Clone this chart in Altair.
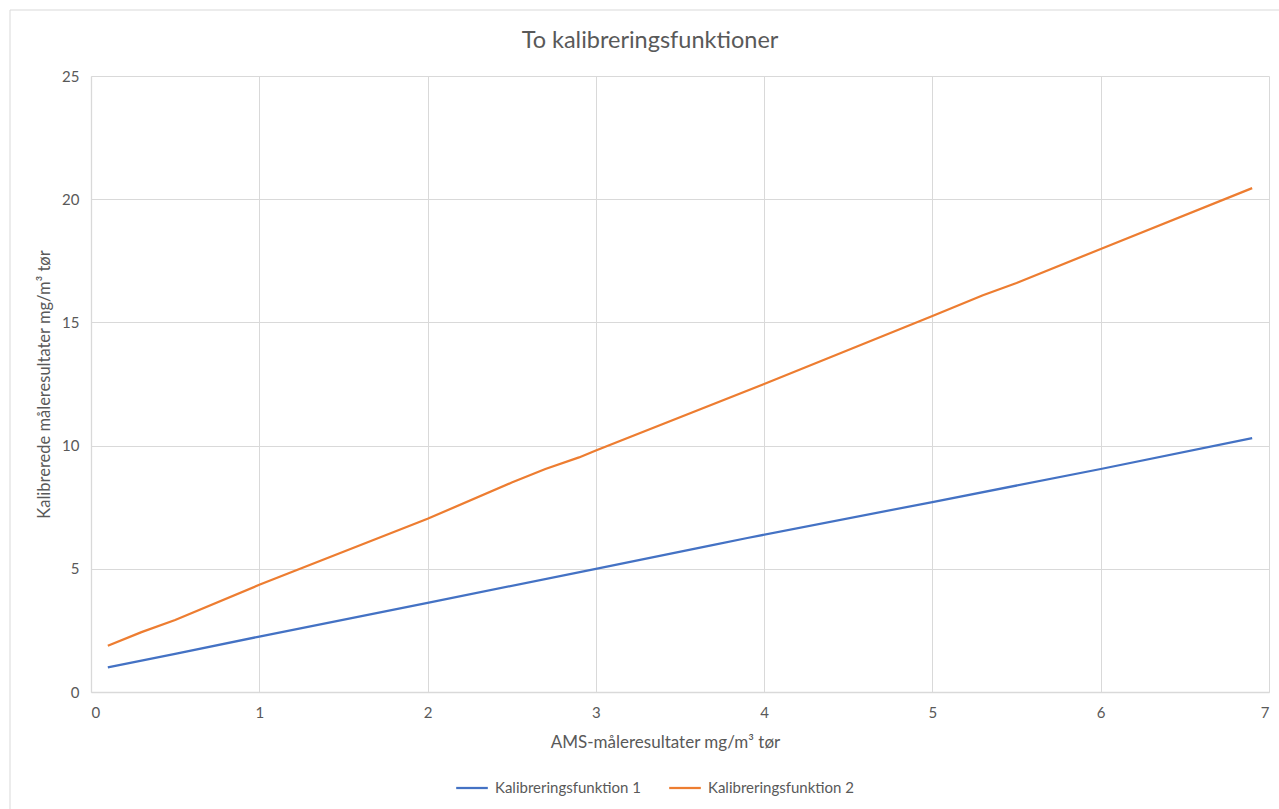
import altair as alt
import pandas as pd

# Calibration curves: AMS measurement (x) vs calibrated result (y)
series_names = ["Kalibreringsfunktion 1", "Kalibreringsfunktion 2"]

x1 = [0.1, 0.5, 1.0, 2.0, 3.0, 3.7, 3.9, 5.0, 6.0, 6.9]
y1 = [1.0, 1.55, 2.25, 3.62, 5.0, 5.97, 6.25, 7.71, 9.05, 10.3]

x2 = [0.1, 0.3, 0.5, 1.0, 2.0, 2.5, 2.7, 2.9, 3.0, 4.0, 5.0, 5.3, 5.5, 6.0, 6.9]
y2 = [1.88, 2.43, 2.92, 4.35, 7.03, 8.5, 9.05, 9.52, 9.8, 12.5, 15.26, 16.1, 16.6, 17.98, 20.45]

x_ticks = [0, 1, 2, 3, 4, 5, 6, 7]
y_ticks = [0, 5, 10, 15, 20, 25]

colors = ["#4472C4", "#ED7D31"]
text_color = "#595959"
grid_color = "#d9d9d9"
font = "Lato"

df = pd.concat([
    pd.DataFrame({"x": x1, "y": y1, "serie": series_names[0], "order": range(len(x1))}),
    pd.DataFrame({"x": x2, "y": y2, "serie": series_names[1], "order": range(len(x2))}),
])

W, H = 1178, 616

lines = alt.Chart(df).mark_line(strokeWidth=2.25).encode(
    x=alt.X("x:Q",
            scale=alt.Scale(domain=[0, 7], nice=False),
            axis=alt.Axis(values=x_ticks, title="AMS-måleresultater mg/m³ tør",
                          titleX=574, titleY=50, titleBaseline="middle",
                          labelPadding=13)),
    y=alt.Y("y:Q",
            scale=alt.Scale(domain=[0, 25], nice=False),
            axis=alt.Axis(values=y_ticks, title="Kalibrerede måleresultater mg/m³ tør",
                          titleX=-47, titleBaseline="middle", labelPadding=12)),
    color=alt.Color("serie:N",
                    scale=alt.Scale(domain=series_names, range=colors),
                    legend=alt.Legend(title=None, orient="none", direction="horizontal",
                                      legendX=364, legendY=695,
                                      symbolType="stroke", symbolSize=1000,
                                      symbolStrokeWidth=2.25, columnPadding=23,
                                      labelFontSize=15, labelColor=text_color,
                                      labelFont=font, labelOffset=6)),
    order="order:Q",
)

# Outer chart border
frame = alt.Chart(pd.DataFrame({"a": [0]})).mark_rect(
    filled=False, stroke=grid_color, strokeWidth=1
).encode(
    x=alt.value(-81), x2=alt.value(W + 30),
    y=alt.value(-66), y2=alt.value(H + 140),
)

chart = alt.layer(frame, lines).properties(
    width=W, height=H,
    background="white",
    title=alt.TitleParams("To kalibreringsfunktioner", fontSize=23.5, font=font,
                          color=text_color, fontWeight="normal", anchor="middle",
                          offset=-43, dx=-30),
    autosize=alt.AutoSizeParams(type="none"),
    padding={"left": 91, "top": 76, "right": 10, "bottom": 117},
).configure_view(stroke=None).configure_axis(
    grid=True, gridColor=grid_color, gridWidth=1,
    domainColor=grid_color, domainWidth=1.3, ticks=False,
    labelFont=font, labelFontSize=15, labelColor=text_color,
    titleFont=font, titleColor=text_color, titleFontWeight="normal",
).configure_axisX(titleFontSize=17).configure_axisY(titleFontSize=16.5)

chart.save("out.html", embed_options={"renderer": "svg", "actions": False})
